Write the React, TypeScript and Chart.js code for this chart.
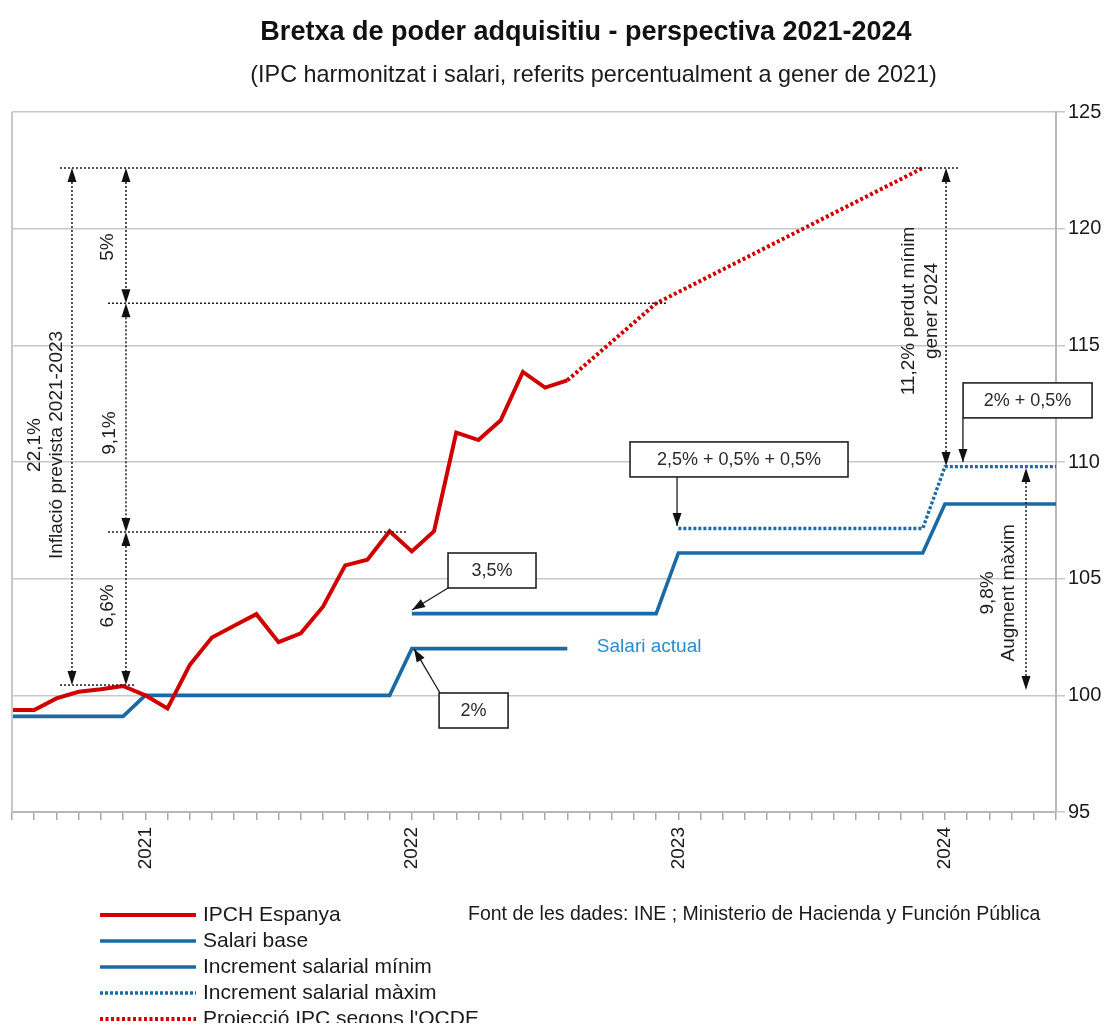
import React, { useEffect, useRef } from 'react';
import { Chart, registerables } from 'chart.js';

Chart.register(...registerables);

const FONT = "'Liberation Sans', Arial, sans-serif";

// ---------- data ----------
const months = [
  '2020-07', '2020-08', '2020-09', '2020-10', '2020-11', '2020-12',
  '2021-01', '2021-02', '2021-03', '2021-04', '2021-05', '2021-06',
  '2021-07', '2021-08', '2021-09', '2021-10', '2021-11', '2021-12',
  '2022-01', '2022-02', '2022-03', '2022-04', '2022-05', '2022-06',
  '2022-07', '2022-08', '2022-09', '2022-10', '2022-11', '2022-12',
  '2023-01', '2023-02', '2023-03', '2023-04', '2023-05', '2023-06',
  '2023-07', '2023-08', '2023-09', '2023-10', '2023-11', '2023-12',
  '2024-01', '2024-02', '2024-03', '2024-04', '2024-05', '2024-06',
];

const yTicks = [95, 100, 105, 110, 115, 120, 125];

// IPCH Espanya (Jul 2020 – Aug 2022)
const ipchStart = '2020-07';
const ipchEspanya = [
  99.37, 99.37, 99.87, 100.15, 100.26, 100.4,
  100.0, 99.44, 101.3, 102.48, 102.98, 103.48,
  102.28, 102.66, 103.8, 105.57, 105.81, 107.03,
  106.17, 107.03, 111.26, 110.94, 111.79, 113.86,
  113.19, 113.5,
];

// Salari base (Jul 2020 – Aug 2022)
const salariBaseStart = '2020-07';
const salariBase = [
  99.1, 99.1, 99.1, 99.1, 99.1, 99.1,
  100, 100, 100, 100, 100, 100, 100, 100, 100, 100, 100, 100,
  102, 102, 102, 102, 102, 102, 102, 102,
];

// Increment salarial mínim (Jan 2022 – Jun 2024)
const incrMinimStart = '2022-01';
const incrMinim = [
  103.5, 103.5, 103.5, 103.5, 103.5, 103.5, 103.5, 103.5, 103.5, 103.5, 103.5, 103.5,
  106.1, 106.1, 106.1, 106.1, 106.1, 106.1, 106.1, 106.1, 106.1, 106.1, 106.1, 106.1,
  108.2, 108.2, 108.2, 108.2, 108.2, 108.2,
];

// Increment salarial màxim (Jan 2023 – Jun 2024)
const incrMaximStart = '2023-01';
const incrMaxim = [
  107.15, 107.15, 107.15, 107.15, 107.15, 107.15, 107.15, 107.15, 107.15, 107.15, 107.15, 107.15,
  109.8, 109.8, 109.8, 109.8, 109.8, 109.8,
];

// Projecció IPC segons l'OCDE
const projeccioMonths = ['2022-08', '2022-12', '2023-12'];
const projeccioValues = [113.5, 116.8, 122.6];

// ---------- annotations (data units: month index, value) ----------
const guideLines = [
  { from: 2.16, to: 42.6, v: 122.6 },
  { from: 4.32, to: 29.44, v: 116.8 },
  { from: 4.32, to: 17.74, v: 107.0 },
  { from: 2.16, to: 5.54, v: 100.44 },
];

const spanArrows = [
  { at: 2.7, from: 122.6, to: 100.44 },
  { at: 5.13, from: 122.6, to: 116.8 },
  { at: 5.13, from: 116.8, to: 107.0 },
  { at: 5.13, from: 107.0, to: 100.44 },
  { at: 42.05, from: 122.6, to: 109.83 },
  { at: 45.65, from: 109.74, to: 100.23 },
];

const spanLabels = [
  { lines: ['22,1%', 'Inflació prevista 2021-2023'], at: 1.53, v: 110.73, gap: 22 },
  { lines: ['5%'], at: 4.32, v: 119.21, gap: 22 },
  { lines: ['9,1%'], at: 4.41, v: 111.24, gap: 22 },
  { lines: ['6,6%'], at: 4.32, v: 103.83, gap: 22 },
  { lines: ['11,2% perdut mínim', 'gener 2024'], at: 40.88, v: 116.47, gap: 22.5 },
  { lines: ['9,8%', 'Augment màxim'], at: 44.41, v: 104.39, gap: 21 },
];

const callouts = [
  { text: '3,5%', at: 21.61, v: 105.35, w: 88, h: 35, from: [19.63, 104.6], to: [18.01, 103.66] },
  { text: '2%', at: 20.78, v: 99.35, w: 69, h: 35, from: [19.27, 100.1], to: [18.1, 101.99] },
  { text: '2,5% + 0,5% + 0,5%', at: 32.73, v: 110.11, w: 218, h: 35, from: [29.94, 109.36], to: [29.94, 107.26] },
  { text: '2% + 0,5%', at: 45.72, v: 112.64, w: 129, h: 35, from: [42.81, 111.89], to: [42.81, 110.0] },
];

const seriesNote = { text: 'Salari actual', at: 26.33, v: 102.07 };
const sourceText = 'Font de les dades: INE ; Ministerio de Hacienda y Función Pública';
const titleText = 'Bretxa de poder adquisitiu - perspectiva 2021-2024';
const subtitleText = '(IPC harmonitzat i salari, referits percentualment a gener de 2021)';

// ---------- helpers ----------
function place(start: string, values: number[]) {
  const out: (number | null)[] = months.map(() => null);
  const s = months.indexOf(start);
  values.forEach((v, i) => { out[s + i] = v; });
  return out;
}
function placeAt(keys: string[], values: number[]) {
  const out: (number | null)[] = months.map(() => null);
  keys.forEach((k, i) => { out[months.indexOf(k)] = values[i]; });
  return out;
}

function arrowHead(ctx: CanvasRenderingContext2D, fx: number, fy: number, tx: number, ty: number, len: number, half: number) {
  const a = Math.atan2(ty - fy, tx - fx);
  const c = Math.cos(a), s = Math.sin(a);
  ctx.save();
  ctx.setLineDash([]);
  ctx.beginPath();
  ctx.moveTo(tx, ty);
  ctx.lineTo(tx - len * c + half * s, ty - len * s - half * c);
  ctx.lineTo(tx - len * c - half * s, ty - len * s + half * c);
  ctx.closePath();
  ctx.fill();
  ctx.restore();
}

const RED = '#d00000';
const BLUE = '#1a6aa6';

const annotationsPlugin = {
  id: 'annotationsPlugin',
  afterDraw(chart: any) {
    const ctx: CanvasRenderingContext2D = chart.ctx;
    const xs = chart.scales.x;
    const ys = chart.scales.y;
    const px = (i: number) => xs.getPixelForValue(i);
    const py = (v: number) => ys.getPixelForValue(v);
    const area = chart.chartArea;

    ctx.save();
    // left frame of plot area
    ctx.strokeStyle = '#c8c8c8';
    ctx.lineWidth = 2;
    ctx.beginPath();
    ctx.moveTo(area.left, area.top);
    ctx.lineTo(area.left, area.bottom);
    ctx.stroke();

    // horizontal dotted guides
    ctx.strokeStyle = '#1a1a1a';
    ctx.fillStyle = '#111';
    ctx.lineWidth = 1.5;
    ctx.setLineDash([2, 2]);
    guideLines.forEach((g) => {
      ctx.beginPath();
      ctx.moveTo(px(g.from), py(g.v));
      ctx.lineTo(px(g.to), py(g.v));
      ctx.stroke();
    });

    // vertical dotted double arrows
    spanArrows.forEach((a) => {
      const x = px(a.at);
      const y1 = py(a.from);
      const y2 = py(a.to);
      const dir = y2 > y1 ? 1 : -1;
      ctx.setLineDash([2, 2]);
      ctx.beginPath();
      ctx.moveTo(x, y1 + dir * 10);
      ctx.lineTo(x, y2 - dir * 10);
      ctx.stroke();
      arrowHead(ctx, x, y2, x, y1, 14, 4.5);
      arrowHead(ctx, x, y1, x, y2, 14, 4.5);
    });
    ctx.setLineDash([]);

    // rotated labels
    ctx.fillStyle = '#1e1e1e';
    ctx.font = `19px ${FONT}`;
    ctx.textAlign = 'center';
    ctx.textBaseline = 'middle';
    spanLabels.forEach((l) => {
      ctx.save();
      ctx.translate(px(l.at), py(l.v));
      ctx.rotate(-Math.PI / 2);
      const n = l.lines.length;
      l.lines.forEach((t, i) => {
        ctx.fillText(t, 0, (i - (n - 1) / 2) * l.gap);
      });
      ctx.restore();
    });

    // callout boxes
    callouts.forEach((c) => {
      const cx = px(c.at), cy = py(c.v);
      const fx = px(c.from[0]), fy = py(c.from[1]);
      const tx = px(c.to[0]), ty = py(c.to[1]);
      ctx.strokeStyle = '#1a1a1a';
      ctx.fillStyle = '#111';
      ctx.lineWidth = 1.3;
      ctx.beginPath();
      ctx.moveTo(fx, fy);
      ctx.lineTo(tx, ty);
      ctx.stroke();
      arrowHead(ctx, fx, fy, tx, ty, 13, 4.5);
      ctx.fillStyle = '#ffffff';
      ctx.fillRect(cx - c.w / 2, cy - c.h / 2, c.w, c.h);
      ctx.lineWidth = 1.6;
      ctx.strokeStyle = '#222';
      ctx.strokeRect(cx - c.w / 2, cy - c.h / 2, c.w, c.h);
      ctx.fillStyle = '#2a2a2a';
      ctx.font = `18px ${FONT}`;
      ctx.textAlign = 'center';
      ctx.textBaseline = 'middle';
      ctx.fillText(c.text, cx, cy + 1);
    });

    // series note
    ctx.fillStyle = '#2a8ccc';
    ctx.font = `19px ${FONT}`;
    ctx.textAlign = 'left';
    ctx.textBaseline = 'middle';
    ctx.fillText(seriesNote.text, px(seriesNote.at), py(seriesNote.v));

    // title & subtitle
    ctx.fillStyle = '#111';
    ctx.textAlign = 'center';
    ctx.font = `bold 27px ${FONT}`;
    ctx.fillText(titleText, 578, 25);
    ctx.font = `23.4px ${FONT}`;
    ctx.fillStyle = '#1a1a1a';
    ctx.fillText(subtitleText, 585.5, 68);

    // legend
    const rows = [907, 933, 959, 985, 1011];
    chart.data.datasets.forEach((ds: any, i: number) => {
      const y = rows[i];
      ctx.strokeStyle = ds.borderColor;
      ctx.lineWidth = ds.borderWidth;
      ctx.setLineDash(ds.borderDash || []);
      ctx.beginPath();
      ctx.moveTo(92, y);
      ctx.lineTo(188, y);
      ctx.stroke();
      ctx.setLineDash([]);
      ctx.fillStyle = '#1a1a1a';
      ctx.font = `21px ${FONT}`;
      ctx.textAlign = 'left';
      ctx.textBaseline = 'middle';
      ctx.fillText(ds.label, 195, y);
    });
    ctx.font = `19.5px ${FONT}`;
    ctx.fillText(sourceText, 460, 907);
    ctx.restore();
  },
};

export default function App() {
  const ref = useRef<HTMLCanvasElement | null>(null);

  useEffect(() => {
    if (!ref.current) return;
    Chart.defaults.font.family = FONT;
    const chart = new Chart(ref.current, {
      type: 'line',
      data: {
        labels: months,
        datasets: [
          {
            label: 'IPCH Espanya',
            data: place(ipchStart, ipchEspanya),
            borderColor: RED,
            borderWidth: 4,
            pointRadius: 0,
            fill: false,
            tension: 0,
          },
          {
            label: 'Salari base',
            data: place(salariBaseStart, salariBase),
            borderColor: BLUE,
            borderWidth: 3.6,
            pointRadius: 0,
            fill: false,
            tension: 0,
          },
          {
            label: 'Increment salarial mínim',
            data: place(incrMinimStart, incrMinim),
            borderColor: BLUE,
            borderWidth: 3.6,
            pointRadius: 0,
            fill: false,
            tension: 0,
          },
          {
            label: 'Increment salarial màxim',
            data: place(incrMaximStart, incrMaxim),
            borderColor: BLUE,
            borderWidth: 3.4,
            borderDash: [3, 2],
            pointRadius: 0,
            fill: false,
            tension: 0,
          },
          {
            label: "Projecció IPC segons l'OCDE",
            data: placeAt(projeccioMonths, projeccioValues),
            borderColor: RED,
            borderWidth: 4,
            borderDash: [3, 2.5],
            pointRadius: 0,
            fill: false,
            tension: 0,
            spanGaps: true,
          },
        ],
      },
      options: {
        responsive: false,
        animation: false,
        events: [],
        layout: { padding: { left: 4, top: 104, right: 0, bottom: 119 } },
        plugins: {
          legend: { display: false },
          tooltip: { enabled: false },
          title: { display: false },
        },
        scales: {
          x: {
            type: 'category',
            offset: false,
            grid: { drawOnChartArea: false, drawTicks: true, tickLength: 8, color: '#a8a8a8', lineWidth: 1.5 },
            border: { display: true, color: '#b8b8b8', width: 2 },
            ticks: {
              autoSkip: false,
              maxRotation: 90,
              minRotation: 90,
              padding: 7,
              color: '#1a1a1a',
              font: { size: 19, family: FONT },
              callback: (_v: any, i: number) => (months[i].endsWith('-01') ? months[i].slice(0, 4) : ''),
            },
            afterFit: (s: any) => { s.height = 100; s.paddingLeft = 0; s.paddingRight = 0; },
          },
          y: {
            position: 'right',
            min: 95,
            max: 125,
            afterBuildTicks: (s: any) => { s.ticks = yTicks.map((v) => ({ value: v })); },
            ticks: { padding: 3, color: '#1a1a1a', font: { size: 20, family: FONT } },
            grid: { color: '#c8c8c8', lineWidth: 1.5, tickLength: 9 },
            border: { color: '#b8b8b8', width: 2 },
            afterFit: (s: any) => { s.width = 45; s.paddingTop = 0; s.paddingBottom = 0; },
          },
        },
      } as any,
      plugins: [annotationsPlugin],
    });
    return () => chart.destroy();
  }, []);

  return (
    <div style={{ width: 1093, height: 1023, marginBottom: -8, overflow: 'hidden' }}>
      <canvas ref={ref} width={1093} height={1023} style={{ display: 'block', width: 1093, height: 1023 }} />
    </div>
  );
}
